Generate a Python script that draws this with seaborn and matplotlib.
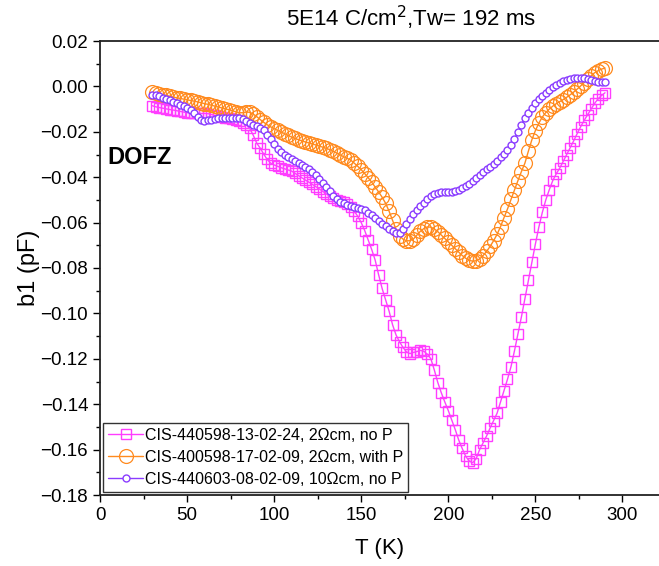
import matplotlib
matplotlib.use("Agg")
import pandas as pd
import seaborn as sns
import matplotlib.pyplot as plt
from matplotlib.ticker import MultipleLocator, FuncFormatter

T = [30, 32, 34, 36, 38, 40, 42, 44, 46, 48, 50, 52, 54, 56, 58, 60, 62, 64, 66, 68,
     70, 72, 74, 76, 78, 80, 82, 84, 86, 88, 90, 92, 94, 96, 98, 100, 102, 104, 106, 108,
     110, 112, 114, 116, 118, 120, 122, 124, 126, 128, 130, 132, 134, 136, 138, 140, 142, 144, 146, 148,
     150, 152, 154, 156, 158, 160, 162, 164, 166, 168, 170, 172, 174, 176, 178, 180, 182, 184, 186, 188,
     190, 192, 194, 196, 198, 200, 202, 204, 206, 208, 210, 212, 214, 216, 218, 220, 222, 224, 226, 228,
     230, 232, 234, 236, 238, 240, 242, 244, 246, 248, 250, 252, 254, 256, 258, 260, 262, 264, 266, 268,
     270, 272, 274, 276, 278, 280, 282, 284, 286, 288, 290]

b1_magenta = [-0.0085, -0.0090, -0.0093, -0.0096, -0.0099, -0.0102, -0.0104, -0.0107, -0.0110, -0.0113,
              -0.0116, -0.0117, -0.0118, -0.0119, -0.0119, -0.0119, -0.0120, -0.0124, -0.0128, -0.0132,
              -0.0135, -0.0138, -0.0141, -0.0144, -0.0147, -0.0153, -0.0160, -0.0170, -0.0185, -0.0215,
              -0.0250, -0.0272, -0.0298, -0.0322, -0.0338, -0.0346, -0.0352, -0.0358, -0.0363, -0.0368,
              -0.0373, -0.0383, -0.0393, -0.0403, -0.0413, -0.0422, -0.0432, -0.0442, -0.0452, -0.0463,
              -0.0474, -0.0484, -0.0493, -0.0500, -0.0506, -0.0511, -0.0516, -0.0530, -0.0550, -0.0572,
              -0.0600, -0.0635, -0.0677, -0.0718, -0.0765, -0.0830, -0.0890, -0.0940, -0.0990, -0.1050,
              -0.1095, -0.1125, -0.1150, -0.1170, -0.1177, -0.1172, -0.1168, -0.1163, -0.1167, -0.1180,
              -0.1200, -0.1250, -0.1305, -0.1350, -0.1390, -0.1428, -0.1470, -0.1512, -0.1558, -0.1595,
              -0.1630, -0.1650, -0.1658, -0.1640, -0.1600, -0.1570, -0.1540, -0.1505, -0.1472, -0.1440,
              -0.1390, -0.1340, -0.1290, -0.1235, -0.1165, -0.1090, -0.1015, -0.0935, -0.0855, -0.0775,
              -0.0695, -0.0620, -0.0555, -0.0500, -0.0455, -0.0415, -0.0385, -0.0360, -0.0330, -0.0300,
              -0.0270, -0.0240, -0.0208, -0.0178, -0.0150, -0.0125, -0.0100, -0.0075, -0.0055, -0.0040,
              -0.0028]

b1_orange = [-0.0025, -0.0029, -0.0033, -0.0036, -0.0040, -0.0043, -0.0047, -0.0050, -0.0053, -0.0056,
             -0.0059, -0.0062, -0.0065, -0.0068, -0.0072, -0.0076, -0.0079, -0.0083, -0.0087, -0.0091,
             -0.0095, -0.0099, -0.0103, -0.0107, -0.0112, -0.0116, -0.0116, -0.0113, -0.0114, -0.0122,
             -0.0133, -0.0146, -0.0158, -0.0169, -0.0178, -0.0186, -0.0194, -0.0201, -0.0208, -0.0216,
             -0.0223, -0.0229, -0.0235, -0.0240, -0.0245, -0.0249, -0.0254, -0.0258, -0.0263, -0.0268,
             -0.0273, -0.0279, -0.0286, -0.0294, -0.0302, -0.0310, -0.0317, -0.0325, -0.0338, -0.0352,
             -0.0367, -0.0384, -0.0402, -0.0422, -0.0443, -0.0465, -0.0488, -0.0515, -0.0550, -0.0590,
             -0.0630, -0.0658, -0.0673, -0.0680, -0.0680, -0.0672, -0.0655, -0.0638, -0.0626, -0.0619,
             -0.0620, -0.0628, -0.0640, -0.0655, -0.0670, -0.0685, -0.0700, -0.0715, -0.0730, -0.0745,
             -0.0757, -0.0766, -0.0770, -0.0768, -0.0760, -0.0745, -0.0727, -0.0705, -0.0680, -0.0652,
             -0.0618, -0.0578, -0.0540, -0.0498, -0.0455, -0.0415, -0.0375, -0.0338, -0.0285, -0.0235,
             -0.0195, -0.0162, -0.0135, -0.0115, -0.0100, -0.0087, -0.0076, -0.0067, -0.0058, -0.0048,
             -0.0037, -0.0025, -0.0012, 0.0002, 0.0017, 0.0032, 0.0047, 0.0060, 0.0069, 0.0076,
             0.0081]

b1_purple = [-0.0036, -0.0040, -0.0044, -0.0049, -0.0054, -0.0060, -0.0067, -0.0074, -0.0080, -0.0087,
             -0.0095, -0.0104, -0.0118, -0.0137, -0.0150, -0.0152, -0.0150, -0.0146, -0.0142, -0.0140,
             -0.0139, -0.0139, -0.0139, -0.0139, -0.0139, -0.0141, -0.0145, -0.0151, -0.0160, -0.0168,
             -0.0176, -0.0184, -0.0194, -0.0212, -0.0232, -0.0252, -0.0274, -0.0290, -0.0302, -0.0312,
             -0.0320, -0.0328, -0.0336, -0.0345, -0.0354, -0.0364, -0.0376, -0.0392, -0.0408, -0.0424,
             -0.0442, -0.0462, -0.0482, -0.0498, -0.0508, -0.0515, -0.0522, -0.0528, -0.0532, -0.0536,
             -0.0540, -0.0546, -0.0556, -0.0567, -0.0580, -0.0592, -0.0605, -0.0617, -0.0628, -0.0638,
             -0.0645, -0.0645, -0.0630, -0.0608, -0.0585, -0.0563, -0.0545, -0.0528, -0.0512, -0.0496,
             -0.0482, -0.0472, -0.0468, -0.0467, -0.0467, -0.0466, -0.0464, -0.0460, -0.0455, -0.0448,
             -0.0440, -0.0430, -0.0418, -0.0405, -0.0390, -0.0377, -0.0366, -0.0355, -0.0342, -0.0328,
             -0.0313, -0.0297, -0.0279, -0.0258, -0.0232, -0.0200, -0.0168, -0.0140, -0.0115, -0.0093,
             -0.0074, -0.0057, -0.0042, -0.0028, -0.0014, -0.0003, 0.0007, 0.0015, 0.0022, 0.0028,
             0.0032, 0.0035, 0.0037, 0.0037, 0.0035, 0.0031, 0.0027, 0.0024, 0.0021, 0.0019,
             0.0018]

labels = ["CIS-440598-13-02-24, 2\u03a9cm, no P",
          "CIS-400598-17-02-09, 2\u03a9cm, with P",
          "CIS-440603-08-02-09, 10\u03a9cm, no P"]

sns.set_theme(style="ticks")
plt.rcParams["font.family"] = ["Liberation Sans", "DejaVu Sans"]
plt.rcParams["text.color"] = "black"
plt.rcParams["axes.labelcolor"] = "black"
plt.rcParams["xtick.color"] = "black"
plt.rcParams["ytick.color"] = "black"

fig = plt.figure(figsize=(6.59, 5.66), dpi=100)
ax = fig.add_axes([100 / 659, 71 / 566, 559 / 659, 454 / 566])

df = pd.DataFrame({"T": T, "mag": b1_magenta, "org": b1_orange, "pur": b1_purple})

sns.lineplot(data=df, x="T", y="mag", ax=ax, color="#FF3DFF", lw=1, marker="s", markersize=7.5,
             markerfacecolor="none", markeredgecolor="#FF3DFF", markeredgewidth=1, label=labels[0])
sns.lineplot(data=df, x="T", y="org", ax=ax, color="#FF8A1E", lw=1, marker="o", markersize=10,
             markerfacecolor="none", markeredgecolor="#FF8A1E", markeredgewidth=0.9, label=labels[1])
sns.lineplot(data=df, x="T", y="pur", ax=ax, color="#8A3CFF", lw=1, marker="o", markersize=5,
             markerfacecolor="white", markeredgecolor="#8A3CFF", markeredgewidth=1, label=labels[2])

ax.set_xlim(0, 321)
ax.set_ylim(-0.18, 0.02)
ax.xaxis.set_major_locator(MultipleLocator(50))
ax.xaxis.set_minor_locator(MultipleLocator(25))
ax.yaxis.set_major_locator(MultipleLocator(0.02))
ax.yaxis.set_minor_locator(MultipleLocator(0.01))
ax.yaxis.set_major_formatter(FuncFormatter(lambda v, p: f"{v:.2f}".replace("-", "\u2212")))
ax.tick_params(which="major", direction="out", length=5, width=1, labelsize=13.5, color="black")
ax.tick_params(which="minor", direction="out", length=3, width=1, color="black")
for s in ["left", "bottom", "top"]:
    ax.spines[s].set_color("#222222")
    ax.spines[s].set_linewidth(1.3)
ax.spines["right"].set_visible(False)

ax.set_xlabel("T (K)", fontsize=16, labelpad=10)
ax.set_ylabel("b1 (pF)", fontsize=17, labelpad=0)
fig.text(411 / 659, 1 - 18 / 566, "5E14 C/cm$^2$,Tw= 192 ms", ha="center", va="center", fontsize=16)
ax.text(4, -0.0315, "DOFZ", fontsize=17, fontweight="bold", ha="left", va="center")

leg = ax.legend(loc="lower left", fontsize=11.5, frameon=True, fancybox=False, borderaxespad=0.2,
                handlelength=2.2, handletextpad=0.1, labelspacing=0.45, borderpad=0.3)
leg.get_frame().set_edgecolor("black")
leg.get_frame().set_linewidth(1)

fig.savefig("out.png", dpi=100)
